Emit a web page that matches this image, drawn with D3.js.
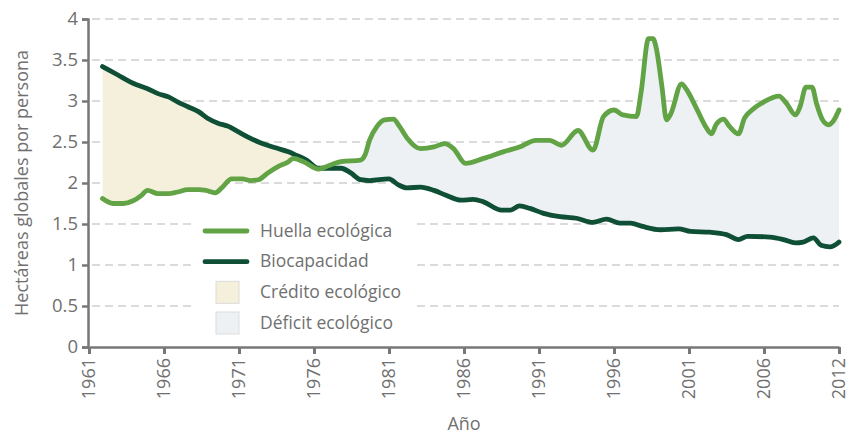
<!DOCTYPE html>
<html>
<head>
<meta charset="utf-8">
<script src="https://cdn.jsdelivr.net/npm/d3@7"></script>
<style>
  body { margin: 0; background: #fff; }
  .chart text { font-family: "Open Sans", sans-serif; fill: #707070; }
</style>
</head>
<body>
<div class="chart"></div>
<script>
// years (fractional where the line has a wiggle between years)
var huellaYears = [1961.9, 1962.6, 1963.3, 1963.9, 1964.5, 1964.9, 1965.6, 1966.3, 1966.9, 1967.6,
  1968.3, 1968.8, 1969.4, 1969.9, 1970.5, 1971.2, 1971.8, 1972.3, 1972.9, 1973.6,
  1974.3, 1974.6, 1975.3, 1976.3, 1977.1, 1977.8, 1979.1, 1979.4, 1979.7, 1980.2,
  1980.7, 1981.3, 1981.7, 1982.2, 1983.1, 1984.0, 1984.7, 1985.3, 1986.1, 1987.3,
  1988.6, 1989.7, 1990.8, 1991.7, 1992.5, 1993.6, 1994.6, 1995.3, 1996.0, 1996.6,
  1997.5, 1997.8, 1998.3, 1998.6, 1998.8, 1999.2, 1999.5, 1999.8, 2000.5, 2000.8,
  2001.5, 2002.1, 2002.5, 2002.8, 2003.3, 2003.7, 2004.3, 2004.7, 2005.2, 2006.0,
  2007.0, 2007.5, 2008.1, 2008.4, 2008.8, 2009.2, 2009.5, 2009.9, 2010.3, 2010.6, 2011.0];
var huellaValues = [1.81, 1.75, 1.75, 1.78, 1.85, 1.91, 1.87, 1.87, 1.89, 1.92,
  1.92, 1.91, 1.88, 1.95, 2.05, 2.05, 2.03, 2.04, 2.12, 2.20,
  2.26, 2.30, 2.26, 2.17, 2.22, 2.26, 2.28, 2.34, 2.52, 2.69,
  2.77, 2.78, 2.69, 2.55, 2.42, 2.44, 2.48, 2.42, 2.24, 2.30,
  2.38, 2.44, 2.52, 2.52, 2.46, 2.64, 2.40, 2.81, 2.89, 2.83,
  2.81, 3.10, 3.76, 3.76, 3.66, 3.17, 2.77, 2.85, 3.21, 3.15,
  2.91, 2.69, 2.60, 2.71, 2.78, 2.69, 2.60, 2.79, 2.89, 2.99,
  3.06, 2.97, 2.83, 2.93, 3.17, 3.17, 2.97, 2.77, 2.71, 2.75, 2.89];

var bioYears = [1961.9, 1962.9, 1963.9, 1964.6, 1964.9, 1965.6, 1966.3, 1966.9, 1967.6, 1968.3,
  1968.9, 1969.6, 1970.3, 1970.9, 1971.6, 1972.3, 1972.9, 1973.6, 1974.3, 1974.8,
  1975.5, 1976.3, 1977.1, 1977.8, 1978.4, 1979.1, 1979.7, 1981.0, 1981.6, 1982.2,
  1983.1, 1984.0, 1984.8, 1985.8, 1986.6, 1987.3, 1988.5, 1989.1, 1989.7, 1990.4,
  1991.3, 1992.4, 1993.5, 1994.6, 1995.5, 1996.4, 1997.1, 1997.9, 1999.1, 2000.3,
  2001.1, 2002.4, 2003.5, 2004.3, 2004.9, 2006.4, 2007.3, 2008.1, 2008.6, 2009.3,
  2009.8, 2010.4, 2011.0];
var bioValues = [3.42, 3.32, 3.22, 3.17, 3.15, 3.09, 3.05, 2.99, 2.93, 2.87,
  2.79, 2.73, 2.69, 2.63, 2.56, 2.50, 2.46, 2.42, 2.38, 2.34,
  2.28, 2.18, 2.18, 2.18, 2.13, 2.04, 2.03, 2.05, 1.98, 1.94,
  1.95, 1.91, 1.85, 1.79, 1.80, 1.77, 1.67, 1.67, 1.72, 1.69,
  1.63, 1.59, 1.57, 1.52, 1.56, 1.51, 1.51, 1.47, 1.43, 1.44,
  1.41, 1.40, 1.37, 1.31, 1.35, 1.34, 1.31, 1.27, 1.28, 1.33,
  1.24, 1.22, 1.28];

// tick positions on the x axis and the labels printed under them (last one says 2012)
var xTickYears = [1961, 1966, 1971, 1976, 1981, 1986, 1991, 1996, 2001, 2006, 2011];
var xTickLabels = ["1961", "1966", "1971", "1976", "1981", "1986", "1991", "1996", "2001", "2006", "2012"];
var yTicks = [0, 0.5, 1, 1.5, 2, 2.5, 3, 3.5, 4];

var legendItems = [
  {label: "Huella ecológica", kind: "line", color: "#62a346"},
  {label: "Biocapacidad", kind: "line", color: "#0e4f35"},
  {label: "Crédito ecológico", kind: "box", color: "#f5f0db"},
  {label: "Déficit ecológico", kind: "box", color: "#edf1f4"}
];

var width = 847, height = 434;
var margin = {left: 89, right: 8, top: 19, bottom: 87};

var svg = d3.select(".chart").append("svg")
  .attr("width", width)
  .attr("height", height);

var x = d3.scaleLinear().domain([1961, 2011]).range([margin.left, width - margin.right]);
var y = d3.scaleLinear().domain([0, 4]).range([height - margin.bottom, margin.top]);

var huella = huellaYears.map(function(d, i) { return {year: d, value: huellaValues[i]}; });
var bio = bioYears.map(function(d, i) { return {year: d, value: bioValues[i]}; });

var curve = d3.curveMonotoneX;

// dashed grid
svg.append("g").selectAll("line")
  .data(yTicks.filter(function(d) { return d > 0; }))
  .join("line")
  .attr("x1", x(1961) + 3)
  .attr("x2", x(2011))
  .attr("y1", function(d) { return y(d); })
  .attr("y2", function(d) { return y(d); })
  .attr("stroke", "#cfcfcf")
  .attr("stroke-width", 1.6)
  .attr("stroke-dasharray", "8,5");

// fills between the two lines, done with clip paths
var defs = svg.append("defs");
defs.append("clipPath").attr("id", "above-huella")
  .append("path")
  .attr("d", d3.area().curve(curve).x(function(d) { return x(d.year); })
    .y0(y(4)).y1(function(d) { return y(d.value); })(huella));
defs.append("clipPath").attr("id", "above-bio")
  .append("path")
  .attr("d", d3.area().curve(curve).x(function(d) { return x(d.year); })
    .y0(y(4)).y1(function(d) { return y(d.value); })(bio));

svg.append("path")
  .attr("clip-path", "url(#above-huella)")
  .attr("fill", legendItems[2].color)
  .attr("d", d3.area().curve(curve).x(function(d) { return x(d.year); })
    .y0(y(0)).y1(function(d) { return y(d.value); })(bio));

svg.append("path")
  .attr("clip-path", "url(#above-bio)")
  .attr("fill", legendItems[3].color)
  .attr("d", d3.area().curve(curve).x(function(d) { return x(d.year); })
    .y0(y(0)).y1(function(d) { return y(d.value); })(huella));

var line = d3.line().curve(curve)
  .x(function(d) { return x(d.year); })
  .y(function(d) { return y(d.value); });

svg.append("path")
  .attr("d", line(bio))
  .attr("fill", "none")
  .attr("stroke", legendItems[1].color)
  .attr("stroke-width", 4.8)
  .attr("stroke-linejoin", "round")
  .attr("stroke-linecap", "round");

svg.append("path")
  .attr("d", line(huella))
  .attr("fill", "none")
  .attr("stroke", legendItems[0].color)
  .attr("stroke-width", 4.8)
  .attr("stroke-linejoin", "round")
  .attr("stroke-linecap", "round");

// axes
var yAxis = svg.append("g")
  .attr("transform", "translate(" + (margin.left - 1) + ",0)")
  .call(d3.axisLeft(y).tickValues(yTicks).tickFormat(d3.format("")).tickSize(6).tickPadding(4));
yAxis.select(".domain").attr("stroke", "#777").attr("stroke-width", 2.5);
yAxis.selectAll(".tick line").attr("stroke", "#777").attr("stroke-width", 2.5);
yAxis.selectAll(".tick text").attr("font-size", 18.5).attr("fill", "#707070");

var xAxis = svg.append("g")
  .attr("transform", "translate(0," + y(0) + ")")
  .call(d3.axisBottom(x).tickValues(xTickYears)
    .tickFormat(function(d, i) { return xTickLabels[i]; })
    .tickSize(7).tickSizeOuter(0));
xAxis.select(".domain").attr("stroke", "#777").attr("stroke-width", 2.5);
xAxis.selectAll(".tick line").attr("stroke", "#777").attr("stroke-width", 3);
xAxis.selectAll(".tick text")
  .attr("font-size", 18)
  .attr("fill", "#707070")
  .attr("text-anchor", "end")
  .attr("dy", "0.33em")
  .attr("transform", "translate(0,11) rotate(-90)")
  .attr("x", 0)
  .attr("y", 0);

// axis titles
svg.append("text")
  .attr("transform", "translate(28," + ((y(0) + y(4)) / 2) + ") rotate(-90)")
  .attr("text-anchor", "middle")
  .attr("font-size", 18)
  .text("Hectáreas globales por persona");

svg.append("text")
  .attr("x", (x(1961) + x(2011)) / 2)
  .attr("y", 430)
  .attr("text-anchor", "middle")
  .attr("font-size", 18)
  .text("Año");

// legend on a white box that cuts the grid
var legend = svg.append("g");
legend.append("rect")
  .attr("x", 194)
  .attr("y", 212)
  .attr("width", 222)
  .attr("height", 130)
  .attr("fill", "#fff");

var rowY = d3.scalePoint().domain(d3.range(legendItems.length)).range([231, 323]);
var rows = legend.selectAll("g.row")
  .data(legendItems)
  .join("g")
  .attr("class", "row")
  .attr("transform", function(d, i) { return "translate(0," + rowY(i) + ")"; });

rows.filter(function(d) { return d.kind == "line"; })
  .append("line")
  .attr("x1", 205).attr("x2", 247)
  .attr("stroke", function(d) { return d.color; })
  .attr("stroke-width", 4.8)
  .attr("stroke-linecap", "round");

rows.filter(function(d) { return d.kind == "box"; })
  .append("rect")
  .attr("x", 216).attr("y", -11)
  .attr("width", 23).attr("height", 22)
  .attr("fill", function(d) { return d.color; })
  .attr("stroke", "#dcdcdc")
  .attr("stroke-width", 1);

rows.append("text")
  .attr("x", 260)
  .attr("dy", "0.32em")
  .attr("font-size", 17.5)
  .text(function(d) { return d.label; });
</script>
</body>
</html>
